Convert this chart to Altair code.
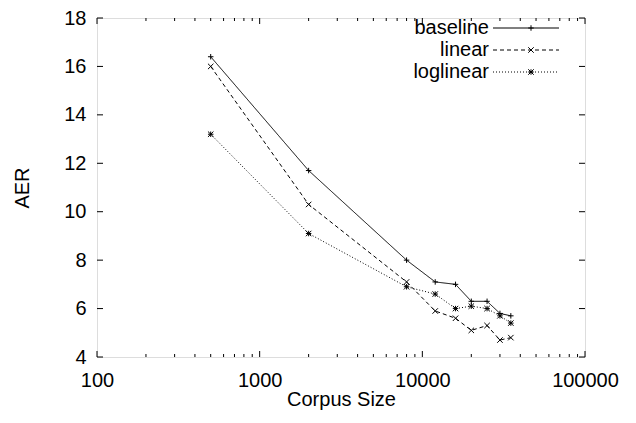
import altair as alt
import pandas as pd

# ---- data ----
corpus_size = [500, 2000, 8000, 12000, 16000, 20000, 25000, 30000, 35000]
baseline = [16.4, 11.7, 8.0, 7.1, 7.0, 6.3, 6.3, 5.8, 5.7]
linear = [16.0, 10.3, 7.1, 5.9, 5.6, 5.1, 5.3, 4.7, 4.8]
loglinear = [13.2, 9.1, 6.9, 6.6, 6.0, 6.1, 6.0, 5.7, 5.4]
series_names = ["baseline", "linear", "loglinear"]

x_major = [100, 1000, 10000, 100000]
x_minor = [200, 300, 400, 500, 600, 700, 800, 900,
           2000, 3000, 4000, 5000, 6000, 7000, 8000, 9000,
           20000, 30000, 40000, 50000, 60000, 70000, 80000, 90000]
y_ticks = [4, 6, 8, 10, 12, 14, 16, 18]

# ---- styling ----
FONT = "Liberation Sans"
W, H = 488, 339
PLUS = "M-1,0L1,0M0,-1L0,1"
CROSS = "M-1,-1L1,1M-1,1L1,-1"
STAR = "M-1,0L1,0M0,-1L0,1M-1,-1L1,1M-1,1L1,-1"
shapes = [PLUS, CROSS, STAR]
dashes = [[1, 0], [4, 3], [1, 2]]

rows = []
for name, vals in zip(series_names, [baseline, linear, loglinear]):
    for s, v in zip(corpus_size, vals):
        rows.append({"size": s, "aer": v, "series": name})
df = pd.DataFrame(rows)

xscale = alt.Scale(type="log", domain=[100, 100000], nice=False)
yscale = alt.Scale(domain=[4, 18], nice=False, zero=False)

x_axis = alt.Axis(values=x_major, format="d", ticks=False, domain=False, grid=False,
                  labelFlush=False, labelOverlap=False, labelPadding=13,
                  labelFontSize=20, labelFont=FONT, labelColor="black",
                  title="Corpus Size", titleFontSize=20, titleFont=FONT,
                  titleFontWeight="normal", titleColor="black",
                  titleY=42, titleBaseline="middle")
y_axis = alt.Axis(values=y_ticks, ticks=False, domain=False, grid=False,
                  labelPadding=11, labelFontSize=20, labelFont=FONT, labelColor="black",
                  title="AER", titleFontSize=20, titleFont=FONT,
                  titleFontWeight="normal", titleColor="black",
                  titleX=-75, titleY=H / 2, titleAngle=-90,
                  titleAlign="center", titleBaseline="middle")

def X():
    return alt.X("size:Q", scale=xscale, axis=x_axis, title="Corpus Size")

def Y():
    return alt.Y("aer:Q", scale=yscale, axis=y_axis, title="AER")

lines = alt.Chart(df).mark_line(color="black", strokeWidth=1).encode(
    x=X(), y=Y(),
    strokeDash=alt.StrokeDash("series:N", scale=alt.Scale(domain=series_names, range=dashes), legend=None),
    detail="series:N",
)
points = alt.Chart(df).mark_point(filled=False, color="black", strokeWidth=1, size=30, opacity=1).encode(
    x=X(), y=Y(),
    shape=alt.Shape("series:N", scale=alt.Scale(domain=series_names, range=shapes), legend=None),
)

# inward ticks (gnuplot style), positioned by the scales
def xticks(vals, length):
    d = pd.DataFrame({"size": vals})
    base = alt.Chart(d).mark_rule(color="black", strokeWidth=1)
    return [base.encode(x=X(), y=alt.value(H), y2=alt.value(H - length)),
            base.encode(x=X(), y=alt.value(0), y2=alt.value(length))]

def yticks(vals, length):
    d = pd.DataFrame({"aer": vals})
    base = alt.Chart(d).mark_rule(color="black", strokeWidth=1)
    return [base.encode(y=Y(), x=alt.value(0), x2=alt.value(length)),
            base.encode(y=Y(), x=alt.value(W), x2=alt.value(W - length))]

tick_layers = xticks(x_major, 6) + xticks(x_minor, 3) + yticks(y_ticks, 6)

# legend (top right, inside plot)
legend_layers = []
legend_y = [10, 32, 54]
for name, shp, dsh, ly in zip(series_names, shapes, dashes, legend_y):
    d = pd.DataFrame({"name": [name]})
    legend_layers.append(
        alt.Chart(d).mark_text(align="right", baseline="middle", fontSize=20, font=FONT, color="black")
        .encode(x=alt.value(392), y=alt.value(ly), text="name:N")
    )
    legend_layers.append(
        alt.Chart(d).mark_rule(color="black", strokeWidth=1, strokeDash=dsh)
        .encode(x=alt.value(396), x2=alt.value(462), y=alt.value(ly))
    )
    legend_layers.append(
        alt.Chart(d).mark_point(shape=shp, filled=False, color="black", strokeWidth=1, size=30, opacity=1)
        .encode(x=alt.value(434), y=alt.value(ly))
    )

chart = alt.layer(lines, points, *tick_layers, *legend_layers).properties(
    width=W, height=H,
    autosize=alt.AutoSizeParams(type="none"),
    padding={"left": 89, "top": 10, "right": 35, "bottom": 55},
).configure_view(stroke="black", strokeWidth=1).configure(background="white")

chart.save("out.html", embed_options={"renderer": "svg", "actions": False})
